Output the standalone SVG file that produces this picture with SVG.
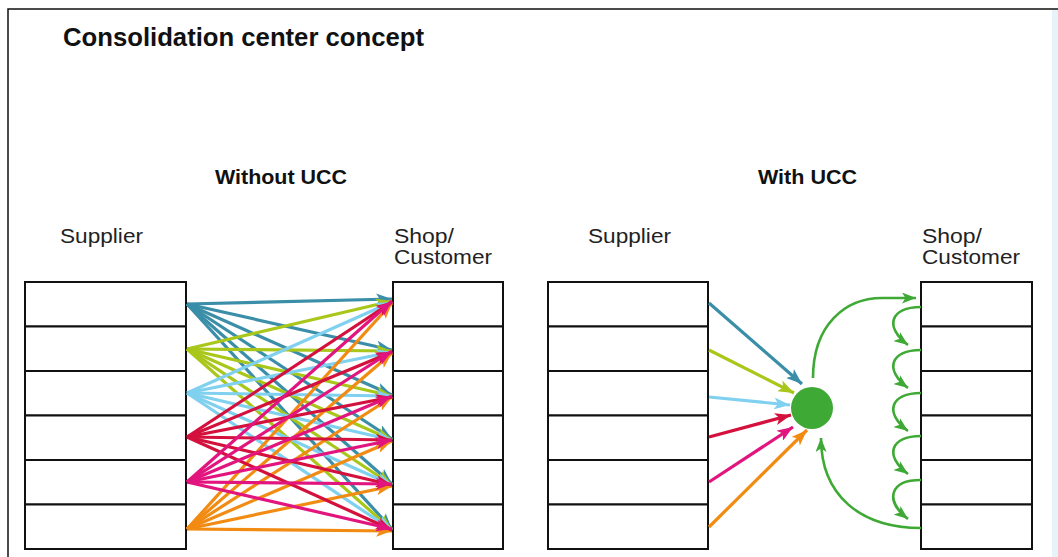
<svg xmlns="http://www.w3.org/2000/svg" width="1058" height="557" viewBox="0 0 1058 557">
<style>
.t{font-family:"Liberation Sans","DejaVu Sans",sans-serif;fill:#111}
.h{font-weight:bold;font-size:20px}
.l{font-size:20px;fill:#222}
.box{fill:#fff;stroke:#111;stroke-width:2}
.a{fill:none;stroke-width:3.2}
.g{fill:none;stroke:#3ea935;stroke-width:2.6}
</style>
<defs>
<marker id="m1" viewBox="0 0 16 12" refX="16" refY="6" markerWidth="16" markerHeight="12" markerUnits="userSpaceOnUse" orient="auto"><path d="M0,0 L16,6 L0,12 L4,6 Z" fill="#3a8ea8"/></marker>
<marker id="m2" viewBox="0 0 16 12" refX="16" refY="6" markerWidth="16" markerHeight="12" markerUnits="userSpaceOnUse" orient="auto"><path d="M0,0 L16,6 L0,12 L4,6 Z" fill="#a9c71a"/></marker>
<marker id="m3" viewBox="0 0 16 12" refX="16" refY="6" markerWidth="16" markerHeight="12" markerUnits="userSpaceOnUse" orient="auto"><path d="M0,0 L16,6 L0,12 L4,6 Z" fill="#80d0ef"/></marker>
<marker id="m4" viewBox="0 0 16 12" refX="16" refY="6" markerWidth="16" markerHeight="12" markerUnits="userSpaceOnUse" orient="auto"><path d="M0,0 L16,6 L0,12 L4,6 Z" fill="#d3113c"/></marker>
<marker id="m5" viewBox="0 0 16 12" refX="16" refY="6" markerWidth="16" markerHeight="12" markerUnits="userSpaceOnUse" orient="auto"><path d="M0,0 L16,6 L0,12 L4,6 Z" fill="#e1157d"/></marker>
<marker id="m6" viewBox="0 0 16 12" refX="16" refY="6" markerWidth="16" markerHeight="12" markerUnits="userSpaceOnUse" orient="auto"><path d="M0,0 L16,6 L0,12 L4,6 Z" fill="#f28b12"/></marker>
<marker id="mg" viewBox="0 0 14 11" refX="14" refY="5.5" markerWidth="14" markerHeight="11" markerUnits="userSpaceOnUse" orient="auto"><path d="M0,0 L14,5.5 L0,11 L3.5,5.5 Z" fill="#3ea935"/></marker>
</defs>
<rect x="0" y="0" width="1058" height="557" fill="#fff"/>
<rect x="1052" y="10" width="6" height="547" fill="#e6f3f8"/>
<path d="M8,557 L8,9 L1058,9" fill="none" stroke="#111" stroke-width="1.5"/>

<text class="t" x="63" y="46" font-weight="bold" font-size="25" textLength="361" lengthAdjust="spacingAndGlyphs">Consolidation center concept</text>
<text class="t h" x="215" y="184" textLength="132" lengthAdjust="spacingAndGlyphs">Without UCC</text>
<text class="t h" x="758" y="184" textLength="99" lengthAdjust="spacingAndGlyphs">With UCC</text>
<text class="t l" x="60" y="243" textLength="83" lengthAdjust="spacingAndGlyphs">Supplier</text>
<text class="t l" x="394" y="243" textLength="60" lengthAdjust="spacingAndGlyphs">Shop/</text>
<text class="t l" x="394" y="264" textLength="98" lengthAdjust="spacingAndGlyphs">Customer</text>
<text class="t l" x="588" y="243" textLength="83" lengthAdjust="spacingAndGlyphs">Supplier</text>
<text class="t l" x="922" y="243" textLength="60" lengthAdjust="spacingAndGlyphs">Shop/</text>
<text class="t l" x="922" y="264" textLength="98" lengthAdjust="spacingAndGlyphs">Customer</text>

<g id="supplier-left">
<rect class="box" x="25" y="282" width="161" height="44.5"/>
<rect class="box" x="25" y="326.5" width="161" height="44.5"/>
<rect class="box" x="25" y="371" width="161" height="44.5"/>
<rect class="box" x="25" y="415.5" width="161" height="44.5"/>
<rect class="box" x="25" y="460" width="161" height="44.5"/>
<rect class="box" x="25" y="504.5" width="161" height="44.5"/>
</g>
<g id="shop-left">
<rect class="box" x="393" y="282" width="110" height="44.5"/>
<rect class="box" x="393" y="326.5" width="110" height="44.5"/>
<rect class="box" x="393" y="371" width="110" height="44.5"/>
<rect class="box" x="393" y="415.5" width="110" height="44.5"/>
<rect class="box" x="393" y="460" width="110" height="44.5"/>
<rect class="box" x="393" y="504.5" width="110" height="44.5"/>
</g>
<g id="supplier-right">
<rect class="box" x="548" y="282" width="160" height="44.5"/>
<rect class="box" x="548" y="326.5" width="160" height="44.5"/>
<rect class="box" x="548" y="371" width="160" height="44.5"/>
<rect class="box" x="548" y="415.5" width="160" height="44.5"/>
<rect class="box" x="548" y="460" width="160" height="44.5"/>
<rect class="box" x="548" y="504.5" width="160" height="44.5"/>
</g>
<g id="shop-right">
<rect class="box" x="921" y="282" width="111" height="44.5"/>
<rect class="box" x="921" y="326.5" width="111" height="44.5"/>
<rect class="box" x="921" y="371" width="111" height="44.5"/>
<rect class="box" x="921" y="415.5" width="111" height="44.5"/>
<rect class="box" x="921" y="460" width="111" height="44.5"/>
<rect class="box" x="921" y="504.5" width="111" height="44.5"/>
</g>
<g id="ucc"><circle cx="812" cy="408" r="21" fill="#3ea935"/></g>

<g id="connectors">
<g stroke="#3a8ea8" class="a" marker-end="url(#m1)">
<path d="M187,304 L392,299"/><path d="M187,304 L392,350"/><path d="M187,304 L392,395"/><path d="M187,304 L392,439"/><path d="M187,304 L392,484"/><path d="M187,304 L392,529"/>
</g>
<g stroke="#a9c71a" class="a" marker-end="url(#m2)">
<path d="M187,349 L392,301"/><path d="M187,349 L392,351"/><path d="M187,349 L392,396"/><path d="M187,349 L392,440"/><path d="M187,349 L392,485"/><path d="M187,349 L392,530"/>
</g>
<g stroke="#80d0ef" class="a" marker-end="url(#m3)">
<path d="M187,393 L392,302"/><path d="M187,393 L392,352"/><path d="M187,393 L392,396"/><path d="M187,393 L392,440"/><path d="M187,393 L392,485"/><path d="M187,393 L392,530"/>
</g>
<g stroke="#f28b12" class="a" marker-end="url(#m6)">
<path d="M187,529 L392,303"/><path d="M187,529 L392,353"/><path d="M187,529 L392,397"/><path d="M187,529 L392,441"/><path d="M187,529 L392,486"/><path d="M187,529 L392,531"/>
</g>
<g stroke="#d3113c" class="a" marker-end="url(#m4)">
<path d="M187,437 L392,302"/><path d="M187,437 L392,352"/><path d="M187,437 L392,397"/><path d="M187,437 L392,440"/><path d="M187,437 L392,485"/><path d="M187,437 L392,530"/>
</g>
<g stroke="#e1157d" class="a" marker-end="url(#m5)">
<path d="M187,482 L392,301"/><path d="M187,482 L392,351"/><path d="M187,482 L392,396"/><path d="M187,482 L392,440"/><path d="M187,482 L392,484"/><path d="M187,482 L392,529"/>
</g>

<path class="a" stroke="#3a8ea8" marker-end="url(#m1)" d="M709,303 L802,384"/>
<path class="a" stroke="#a9c71a" marker-end="url(#m2)" d="M709,350 L794,393"/>
<path class="a" stroke="#80d0ef" marker-end="url(#m3)" d="M709,397 L790,405"/>
<path class="a" stroke="#d3113c" marker-end="url(#m4)" d="M709,437 L791,415"/>
<path class="a" stroke="#e1157d" marker-end="url(#m5)" d="M709,482 L793,427"/>
<path class="a" stroke="#f28b12" marker-end="url(#m6)" d="M709,527 L807,430"/>

<g marker-end="url(#mg)">
<path class="g" d="M813,378 C813,325 845,298 882,298 L916,298"/>
<path class="g" d="M921,528 C860,528 821,495 821,438"/>
<path class="g" d="M921,307 C890,307 884,327 908,345"/>
<path class="g" d="M921,350 C890,350 884,370 908,388"/>
<path class="g" d="M921,393 C890,393 884,413 908,431"/>
<path class="g" d="M921,436 C890,436 884,456 908,474"/>
<path class="g" d="M921,480 C890,480 884,500 908,519"/>
</g>
</g>
</svg>
